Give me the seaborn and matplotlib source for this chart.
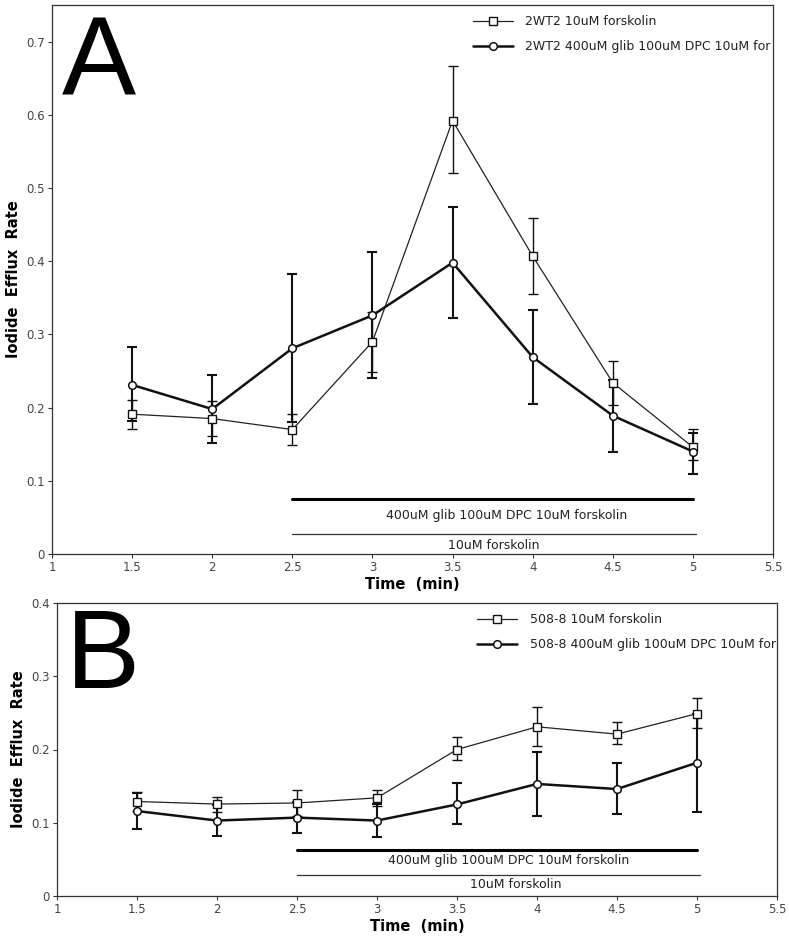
import numpy as np
import pandas as pd
import seaborn as sns
from matplotlib import pyplot as plt

# time points (min)
time = [1.5, 2, 2.5, 3, 3.5, 4, 4.5, 5]

# panel A: 2WT2
a_forsk = [0.191, 0.185, 0.170, 0.290, 0.592, 0.407, 0.234, 0.146]
a_forsk_lo = [0.171, 0.161, 0.149, 0.249, 0.520, 0.355, 0.203, 0.128]
a_forsk_hi = [0.211, 0.209, 0.191, 0.330, 0.666, 0.459, 0.264, 0.171]
a_glib = [0.231, 0.198, 0.281, 0.326, 0.398, 0.269, 0.189, 0.140]
a_glib_lo = [0.182, 0.152, 0.181, 0.240, 0.322, 0.205, 0.140, 0.109]
a_glib_hi = [0.283, 0.244, 0.382, 0.413, 0.474, 0.334, 0.238, 0.165]

# panel B: 508-8
b_forsk = [0.129, 0.1255, 0.127, 0.134, 0.200, 0.231, 0.221, 0.249]
b_forsk_lo = [0.116, 0.115, 0.109, 0.123, 0.185, 0.205, 0.207, 0.229]
b_forsk_hi = [0.142, 0.135, 0.145, 0.145, 0.2175, 0.258, 0.237, 0.270]
b_glib = [0.116, 0.103, 0.107, 0.103, 0.125, 0.153, 0.146, 0.182]
b_glib_lo = [0.091, 0.082, 0.086, 0.0805, 0.098, 0.109, 0.112, 0.115]
b_glib_hi = [0.141, 0.124, 0.128, 0.126, 0.154, 0.196, 0.182, 0.249]

panels = [
    dict(letter="A", cell="2WT2", ylim=0.75, yticks=[0, 0.1, 0.2, 0.3, 0.4, 0.5, 0.6, 0.7],
         forsk=(a_forsk, a_forsk_lo, a_forsk_hi), glib=(a_glib, a_glib_lo, a_glib_hi),
         rect=[52 / 789, 1 - 554 / 940, 721 / 789, 549 / 940],
         bar_y=(0.075, 0.052, 0.028, 0.012), txt_x=(3.84, 3.76)),
    dict(letter="B", cell="508-8", ylim=0.4, yticks=[0, 0.1, 0.2, 0.3, 0.4],
         forsk=(b_forsk, b_forsk_lo, b_forsk_hi), glib=(b_glib, b_glib_lo, b_glib_hi),
         rect=[57 / 789, 1 - 896 / 940, 720 / 789, 293 / 940],
         bar_y=(0.063, 0.049, 0.0287, 0.016), txt_x=(3.82, 3.87)),
]

sns.set_style("ticks")
plt.rcParams['font.family'] = ['DejaVu Sans']
plt.rcParams['text.color'] = 'black'
plt.rcParams['axes.labelcolor'] = 'black'

fig = plt.figure(figsize=(7.89, 9.40), dpi=100)

for p in panels:
    ax = fig.add_axes(p["rect"])
    forsk_mean, forsk_lo, forsk_hi = p["forsk"]
    glib_mean, glib_lo, glib_hi = p["glib"]

    # error bars first, markers sit on top
    ax.errorbar(time, glib_mean,
                yerr=[np.subtract(glib_mean, glib_lo), np.subtract(glib_hi, glib_mean)],
                fmt="none", ecolor="#111111", elinewidth=1.5, capsize=3.5, capthick=1.5, zorder=2)
    ax.errorbar(time, forsk_mean,
                yerr=[np.subtract(forsk_mean, forsk_lo), np.subtract(forsk_hi, forsk_mean)],
                fmt="none", ecolor="#111111", elinewidth=1.0, capsize=3.5, capthick=1.0, zorder=2)

    df_f = pd.DataFrame({"time": time, "rate": forsk_mean})
    df_g = pd.DataFrame({"time": time, "rate": glib_mean})
    sns.lineplot(data=df_f, x="time", y="rate", ax=ax, color="#222222", linewidth=0.9,
                 marker="s", markersize=6, markerfacecolor="white", markeredgecolor="#111111",
                 markeredgewidth=1.0, label="{} 10uM forskolin".format(p["cell"]), zorder=3)
    sns.lineplot(data=df_g, x="time", y="rate", ax=ax, color="#111111", linewidth=1.8,
                 marker="o", markersize=5.5, markerfacecolor="white", markeredgecolor="#111111",
                 markeredgewidth=1.1, label="{} 400uM glib 100uM DPC 10uM for".format(p["cell"]), zorder=4)

    # treatment bars
    y1, t1, y2, t2 = p["bar_y"]
    ax.plot([2.5, 5], [y1, y1], color="black", linewidth=2.2)
    ax.text(p["txt_x"][0], t1, "400uM glib 100uM DPC 10uM forskolin", ha="center", va="center",
            fontsize=9, color="#222222")
    ax.plot([2.5, 5.02], [y2, y2], color="#333333", linewidth=0.9)
    ax.text(p["txt_x"][1], t2, "10uM forskolin", ha="center", va="center", fontsize=9, color="#222222")

    ax.set_xlim(1, 5.5)
    ax.set_ylim(0, p["ylim"])
    ax.set_xticks([1, 1.5, 2, 2.5, 3, 3.5, 4, 4.5, 5, 5.5])
    ax.set_xticklabels(["1", "1.5", "2", "2.5", "3", "3.5", "4", "4.5", "5", "5.5"])
    ax.set_yticks(p["yticks"])
    ax.set_yticklabels(["0" if v == 0 else "{:g}".format(v) for v in p["yticks"]])
    ax.tick_params(labelsize=8.5, labelcolor="#444444", length=3, width=0.8, color="#333333", pad=2)
    for s in ax.spines.values():
        s.set_color("#333333")
        s.set_linewidth(0.9)

    ax.set_xlabel("Time  (min)", fontsize=10.5, fontweight="bold", labelpad=2)
    ax.set_ylabel("Iodide  Efflux  Rate", fontsize=10.5, fontweight="bold", labelpad=4)

    ax.legend(loc="upper left", bbox_to_anchor=(0.57, 1.0), frameon=False, fontsize=9,
              handlelength=3.2, handletextpad=1.0, labelspacing=0.95, borderaxespad=0.4,
              labelcolor="#222222")

    ax.text(0.013, 0.985, p["letter"], transform=ax.transAxes, fontsize=80,
            family="Liberation Sans", va="top", ha="left", color="black")

fig.savefig("out.png", dpi=100)
